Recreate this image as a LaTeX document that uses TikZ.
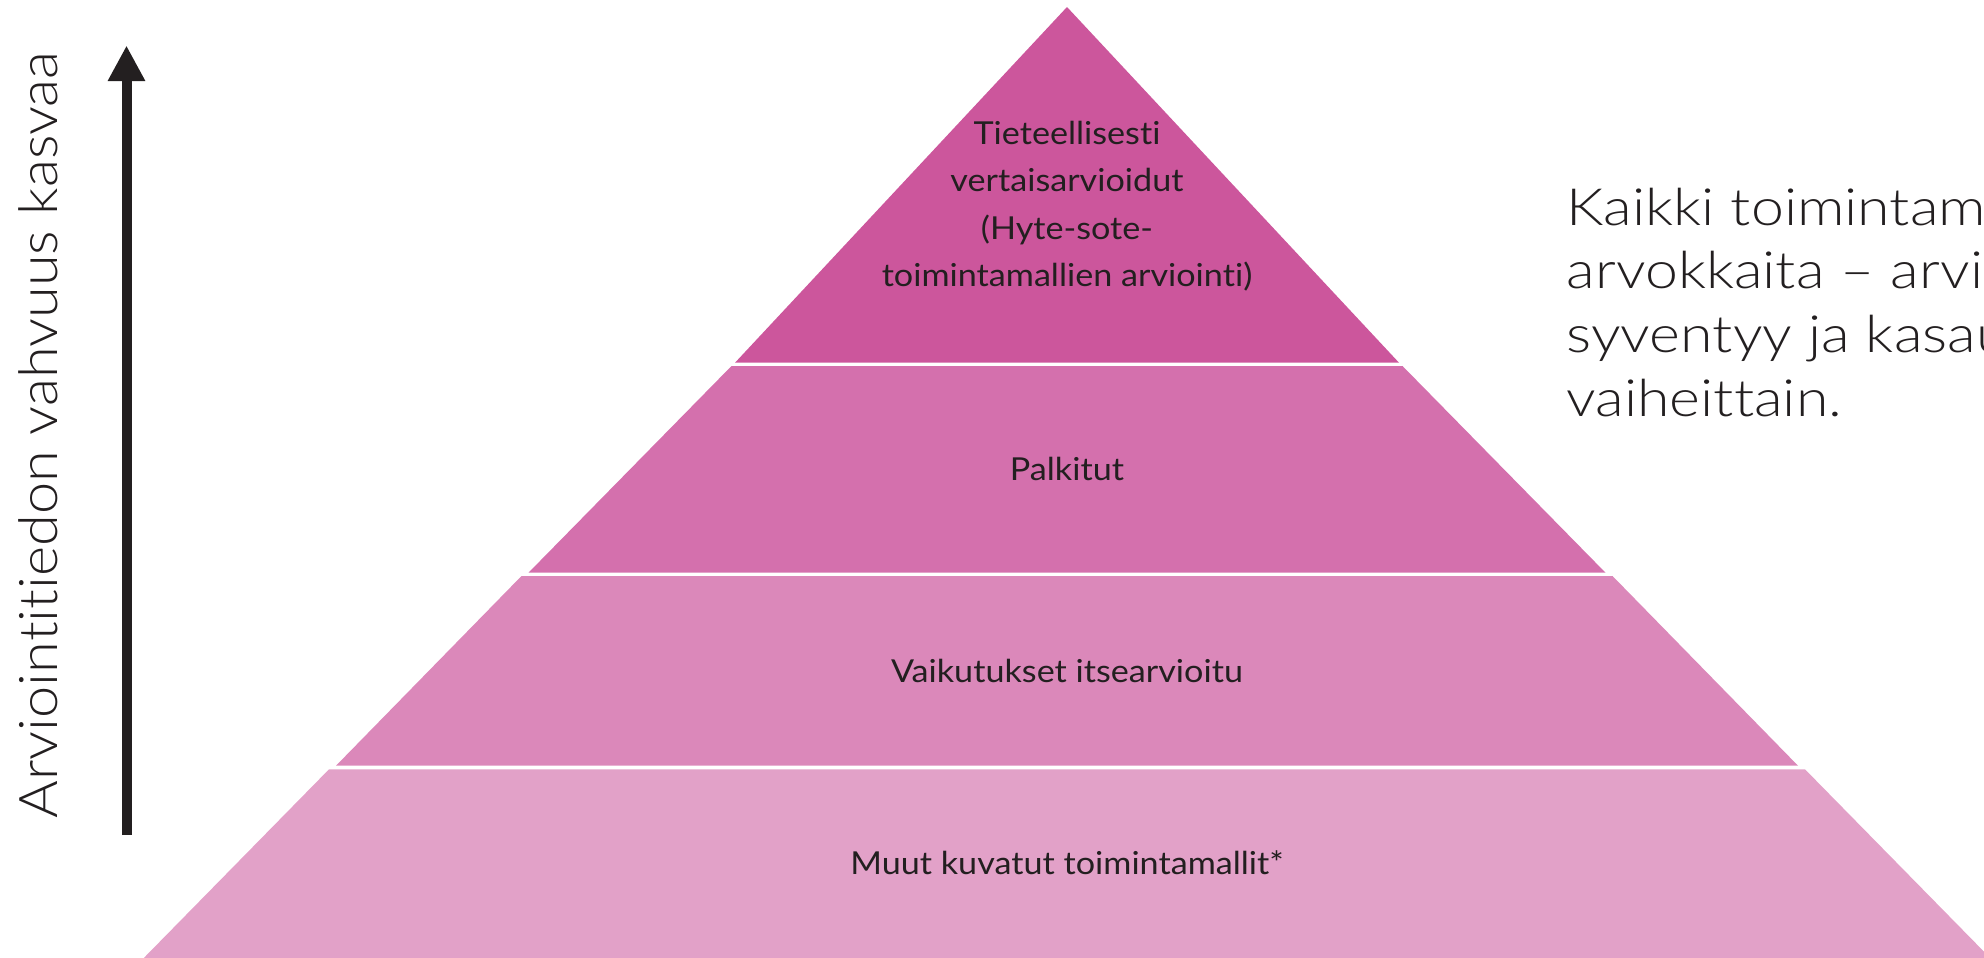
\documentclass[tikz,border=0pt]{standalone}
\usepackage{fontspec}
\setmainfont{Lato}[Ligatures=NoCommon, FakeStretch=1.08]
\newfontfamily\lightfont{Lato Light}[Ligatures=NoCommon, FakeStretch=1.15]
\newfontfamily\axisfont{Lato Light}[Ligatures=NoCommon, FakeStretch=1.08]
\usetikzlibrary{arrows.meta}

\definecolor{tierA}{HTML}{CC569C}
\definecolor{tierB}{HTML}{D470AD}
\definecolor{tierC}{HTML}{DB88BA}
\definecolor{tierD}{HTML}{E2A1C8}
\definecolor{ink}{HTML}{231F20}

\begin{document}
\begin{tikzpicture}[x=0.1mm, y=-0.1mm, >={Triangle[length=3.55mm, width=3.5mm]},
  tier label/.style={text=ink, align=center, font=\fontsize{9pt}{13.5pt}\selectfont},
  side note/.style={text=ink, anchor=base west, inner sep=0pt, font=\lightfont\fontsize{14.6pt}{18pt}\selectfont},
  axis label/.style={text=ink, rotate=90, anchor=base west, inner sep=0pt, font=\axisfont\fontsize{15.2pt}{18pt}\selectfont}]

\useasboundingbox (0,0) rectangle (1984,957);
\clip (0,0) rectangle (1984,957);

% pyramid, top to bottom
\foreach \ty/\tw/\by/\bw/\c in {7/0/362.7/332/tierA, 366/335.5/572.7/538.5/tierB,
                               576/545.5/765.7/731/tierC, 769.3/738/970/935/tierD}
  \fill [\c] (1067-\tw,\ty) -- (1067+\tw,\ty) -- (1067+\bw,\by) -- (1067-\bw,\by) -- cycle;

\node [tier label] (level-1) at (1067,206)
  {Tieteellisesti\\vertaisarvioidut\\(Hyte-sote-\\toimintamallien arviointi)};
\node [tier label] (level-2) at (1067,469) {Palkitut};
\node [tier label] (level-3) at (1067,671) {Vaikutukset itsearvioitu};
\node [tier label] (level-4) at (1067,863) {Muut kuvatut toimintamallit*};

% arrow on the left
\coordinate (strength-low) at (126.5,835);
\coordinate (strength-high) at (126.5,45.5);
\draw [->, ink, line width=1mm] (strength-low) -- (strength-high);
\node [axis label] (strength) at (58,819) {Arviointitiedon vahvuus kasvaa};

% text on the right
\foreach \l [count=\i] in {Kaikki toimintamallit ovat, arvokkaita – arviointitieto,
                           syventyy ja kasautuu, vaiheittain.}
  \node [side note] (note-\i) at (1566,{225+63.8*(\i-1)}) {\l};

\end{tikzpicture}
\end{document}
